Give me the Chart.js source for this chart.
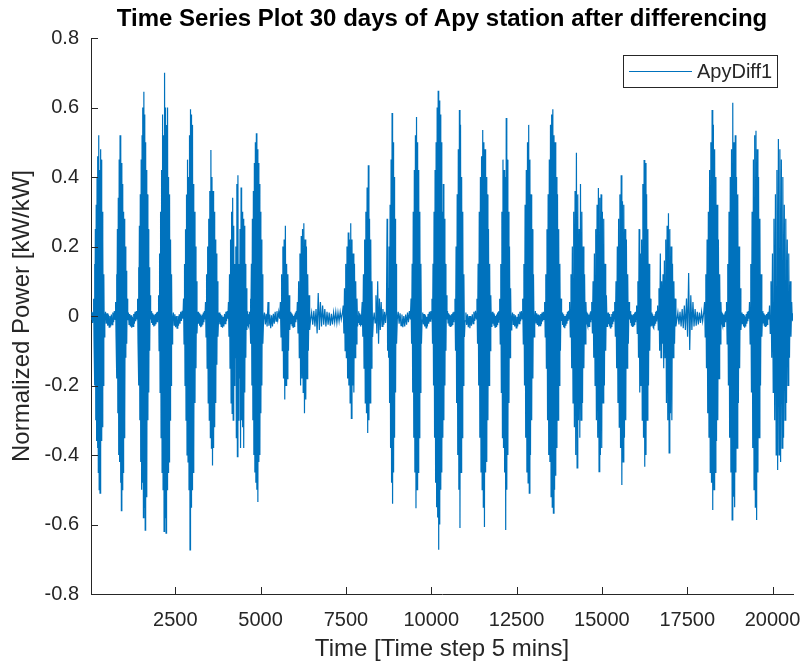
<!DOCTYPE html>
<html>
<head>
<meta charset="utf-8">
<title>ApyDiff1</title>
<script src="https://cdn.jsdelivr.net/npm/chart.js@4.4.1/dist/chart.umd.min.js"></script>
<style>
  html, body { margin: 0; padding: 0; background: #fff; }
  canvas { display: block; }
</style>
</head>
<body>
<canvas id="diff-chart" width="808" height="664"></canvas>
<script>
// Axis range and ticks
const xMin = 30;
const xMax = 20600;
const xTicks = [2500, 5000, 7500, 10000, 12500, 15000, 17500, 20000];
const xTickLabels = ["2500", "5000", "7500", "10000", "12500", "15000", "17500", "20000"];
const yTicks = [-0.8, -0.6, -0.4, -0.2, 0, 0.2, 0.4, 0.6, 0.8];
const yTickLabels = ["-0.8", "-0.6", "-0.4", "-0.2", "0", "0.2", "0.4", "0.6", "0.8"];

// Daytime bursts (time step range) and the sampled differenced power inside each one
const burstStart = [102, 745, 1389, 2003, 2734, 3377, 4050, 4693, 5570, 6067,
  7412, 7968, 8699, 9400, 10014, 10687, 11331, 11998, 12671, 13314,
  14045, 14693, 15366, 16009, 16623, 18000, 18643, 19316, 19901];
const burstEnd = [424, 1096, 1769, 2412, 3143, 3757, 4605, 5073, 5863, 6447,
  7851, 8290, 8991, 9721, 10453, 10980, 11770, 12349, 13022, 13811,
  14542, 15161, 15804, 16448, 17179, 18497, 19082, 19696, 20573];
const burstValues = [
  [0.05, -0.08, 0.15, -0.2, 0.25, -0.3, 0.32, -0.36, 0.4, -0.38, 0.46, -0.45, 0.52, -0.5, 0.42, -0.51, 0.48, -0.4, 0.45, -0.36, 0.3, -0.32, 0.22, -0.2, 0.12, -0.06],
  [0.04, -0.06, 0.12, -0.18, 0.25, -0.28, 0.34, -0.4, 0.45, -0.42, 0.52, -0.48, 0.5, -0.56, 0.44, -0.5, 0.38, -0.45, 0.3, -0.35, 0.28, -0.3, 0.2, -0.12, 0.13, -0.08, 0.05],
  [0.05, -0.08, 0.14, -0.2, 0.26, -0.3, 0.35, -0.42, 0.45, -0.5, 0.52, -0.48, 0.6, -0.58, 0.645, -0.55, 0.58, -0.616, 0.5, -0.52, 0.42, -0.48, 0.35, -0.3, 0.25, -0.22, 0.14, -0.1, 0.06],
  [0.06, -0.1, 0.18, -0.22, 0.3, -0.35, 0.42, -0.45, 0.58, -0.5, 0.52, -0.62, 0.7, -0.58, 0.6, -0.625, 0.55, -0.5, 0.6, -0.45, 0.4, -0.42, 0.35, -0.3, 0.22, -0.2, 0.12, -0.08],
  [0.05, -0.08, 0.15, -0.2, 0.25, -0.3, 0.35, -0.4, 0.45, -0.42, 0.4, -0.5, 0.52, -0.673, 0.595, -0.55, 0.58, -0.5, 0.55, -0.45, 0.38, -0.4, 0.3, -0.25, 0.2, -0.15, 0.1, -0.05],
  [0.04, -0.06, 0.12, -0.15, 0.2, -0.25, 0.28, -0.3, 0.36, -0.35, 0.478, -0.38, 0.4, -0.43, 0.36, -0.38, 0.3, -0.32, 0.22, -0.25, 0.18, -0.14, 0.1, -0.06],
  [0.04, -0.06, 0.12, -0.15, 0.22, -0.25, 0.3, -0.28, 0.34, -0.3, 0.26, -0.2, 0.15, -0.12, 0.2, -0.35, 0.38, -0.405, 0.405, -0.3, 0.15, -0.18, 0.25, -0.38, 0.37, -0.3, 0.3, -0.32, 0.28, -0.38, 0.26, -0.22, 0.15, -0.12, 0.08, -0.04],
  [0.05, -0.08, 0.15, -0.2, 0.28, -0.3, 0.36, -0.4, 0.44, -0.45, 0.5, -0.48, 0.526, -0.5, 0.48, -0.535, 0.44, -0.42, 0.38, -0.4, 0.3, -0.28, 0.22, -0.2, 0.12, -0.08],
  [0.04, -0.06, 0.12, -0.1, 0.2, -0.18, 0.22, -0.24, 0.26, -0.2, 0.15, -0.18, 0.12, -0.1, 0.06, -0.04],
  [0.04, -0.05, 0.1, -0.12, 0.18, -0.2, 0.23, -0.18, 0.25, -0.22, 0.267, -0.28, 0.22, -0.24, 0.2, -0.18, 0.12, -0.1, 0.06, -0.04],
  [0.03, -0.05, 0.08, -0.1, 0.15, -0.12, 0.2, -0.18, 0.24, -0.2, 0.22, -0.25, 0.267, -0.295, 0.22, -0.2, 0.18, -0.22, 0.15, -0.12, 0.1, -0.08, 0.05, -0.03],
  [0.04, -0.06, 0.12, -0.15, 0.22, -0.25, 0.3, -0.28, 0.37, -0.337, 0.434, -0.3, 0.28, -0.25, 0.22, -0.15, 0.1, -0.06],
  [0.28, -0.1, 0.08, -0.12, 0.2, -0.25, 0.32, -0.38, 0.45, -0.48, 0.584, -0.54, 0.5, -0.45, 0.4, -0.35, 0.28, -0.22, 0.15, -0.08],
  [0.05, -0.08, 0.15, -0.22, 0.3, -0.35, 0.42, -0.45, 0.52, -0.553, 0.573, -0.5, 0.5, -0.45, 0.42, -0.35, 0.3, -0.22, 0.15, -0.08],
  [0.05, -0.08, 0.15, -0.2, 0.3, -0.35, 0.42, -0.48, 0.5, -0.55, 0.6, -0.58, 0.648, -0.673, 0.62, -0.6, 0.58, -0.5, 0.5, -0.45, 0.3, -0.35, 0.38, -0.3, 0.28, -0.2, 0.15, -0.1, 0.06],
  [0.05, -0.1, 0.2, -0.25, 0.35, -0.4, 0.48, -0.5, 0.593, -0.61, 0.55, -0.45, 0.4, -0.35, 0.3, -0.2, 0.12, -0.06],
  [0.05, -0.08, 0.15, -0.2, 0.3, -0.35, 0.4, -0.45, 0.46, -0.5, 0.535, -0.55, 0.5, -0.607, 0.48, -0.45, 0.4, -0.42, 0.35, -0.3, 0.25, -0.2, 0.15, -0.1, 0.06, -0.03],
  [0.05, -0.08, 0.15, -0.22, 0.3, -0.35, 0.45, -0.38, 0.42, -0.45, 0.4, -0.616, 0.57, -0.5, 0.45, -0.4, 0.3, -0.25, 0.2, -0.12, 0.08, -0.04],
  [0.05, -0.08, 0.15, -0.2, 0.32, -0.35, 0.42, -0.45, 0.5, -0.48, 0.55, -0.51, 0.45, -0.4, 0.35, -0.3, 0.25, -0.18, 0.12, -0.06],
  [0.04, -0.06, 0.12, -0.15, 0.25, -0.3, 0.35, -0.4, 0.45, -0.42, 0.55, -0.52, 0.58, -0.55, 0.595, -0.567, 0.52, -0.5, 0.5, -0.46, 0.4, -0.38, 0.35, -0.3, 0.25, -0.2, 0.15, -0.1, 0.05],
  [0.04, -0.06, 0.12, -0.15, 0.2, -0.25, 0.3, -0.32, 0.36, -0.4, 0.47, -0.437, 0.35, -0.3, 0.25, -0.35, 0.38, -0.3, 0.3, -0.25, 0.2, -0.15, 0.12, -0.08, 0.04],
  [0.04, -0.05, 0.1, -0.12, 0.18, -0.2, 0.25, -0.3, 0.32, -0.35, 0.368, -0.448, 0.34, -0.4, 0.35, -0.38, 0.3, -0.25, 0.28, -0.2, 0.15, -0.1, 0.06, -0.03],
  [0.04, -0.06, 0.1, -0.15, 0.2, -0.25, 0.28, -0.32, 0.35, -0.38, 0.405, -0.486, 0.33, -0.42, 0.32, -0.35, 0.25, -0.3, 0.22, -0.15, 0.12, -0.08, 0.04],
  [0.03, -0.05, 0.1, -0.12, 0.25, -0.22, 0.18, -0.2, 0.22, -0.3, 0.38, -0.35, 0.449, -0.434, 0.44, -0.4, 0.35, -0.3, 0.25, -0.2, 0.15, -0.1, 0.05, -0.03],
  [0.03, -0.04, 0.08, -0.1, 0.18, -0.12, 0.1, -0.08, 0.12, -0.15, 0.16, -0.12, 0.22, -0.25, 0.26, -0.3, 0.296, -0.394, 0.25, -0.28, 0.2, -0.3, 0.15, -0.12, 0.1, -0.08, 0.05, -0.03],
  [0.04, -0.06, 0.12, -0.15, 0.22, -0.28, 0.3, -0.35, 0.42, -0.45, 0.5, -0.48, 0.593, -0.558, 0.55, -0.5, 0.48, -0.45, 0.4, -0.36, 0.32, -0.3, 0.22, -0.18, 0.12, -0.08, 0.04],
  [0.04, -0.08, 0.15, -0.2, 0.3, -0.35, 0.4, -0.45, 0.48, -0.587, 0.614, -0.52, 0.5, -0.55, 0.52, -0.45, 0.4, -0.38, 0.35, -0.25, 0.2, -0.15, 0.08, -0.04],
  [0.04, -0.08, 0.15, -0.22, 0.3, -0.38, 0.45, -0.5, 0.52, -0.55, 0.533, -0.587, 0.48, -0.45, 0.4, -0.35, 0.28, -0.2, 0.12, -0.06],
  [0.03, -0.05, 0.1, -0.12, 0.18, -0.22, 0.28, -0.3, 0.35, -0.4, 0.42, -0.443, 0.509, -0.4, 0.48, -0.42, 0.45, -0.38, 0.4, -0.35, 0.32, -0.3, 0.28, -0.25, 0.22, -0.2, 0.18, -0.12, 0.1, -0.06, 0.04],
];

// Night-time samples sitting before each burst (last entry closes the series)
const quietValues = [
  [-0.01, 0.012, -0.02, 0.008],
  [-0.01, 0.012, -0.022, 0.008, -0.028, 0.004, -0.032, 0.0, -0.03, 0.004, -0.025, 0.01, -0.018, 0.014, -0.01],
  [-0.012, 0.01, -0.024, 0.006, -0.03, 0.002, -0.034, -0.002, -0.03, 0.006, -0.022, 0.012, -0.015, 0.014, -0.008],
  [-0.01, 0.014, -0.02, 0.008, -0.026, 0.004, -0.03, 0.002, -0.028, 0.006, -0.024, 0.01, -0.016, 0.012, -0.01],
  [-0.014, 0.01, -0.026, 0.005, -0.032, 0.0, -0.035, 0.0, -0.028, 0.005, -0.022, 0.012, -0.014, 0.015, -0.008],
  [-0.01, 0.012, -0.022, 0.008, -0.028, 0.004, -0.032, 0.0, -0.03, 0.004, -0.025, 0.01, -0.018, 0.014, -0.01],
  [-0.012, 0.01, -0.024, 0.006, -0.03, 0.002, -0.034, -0.002, -0.03, 0.006, -0.022, 0.012, -0.015, 0.014, -0.008],
  [-0.01, 0.014, -0.02, 0.008, -0.026, 0.004, -0.03, 0.002, -0.028, 0.006, -0.024, 0.01, -0.016, 0.012, -0.01],
  [-0.012, 0.01, -0.024, 0.006, -0.03, 0.04, -0.028, 0.004, -0.035, 0.002, -0.03, 0.006, -0.022, 0.012, -0.015, 0.014, -0.01, 0.012, -0.008],
  [-0.01, 0.012, -0.022, 0.008, -0.028, 0.004, -0.032, 0.0, -0.03, 0.004, -0.025, 0.01, -0.018, 0.014, -0.01],
  [-0.012, 0.01, -0.025, 0.015, -0.03, 0.02, -0.05, 0.066, -0.04, 0.04, -0.03, 0.03, -0.025, 0.02, -0.03, 0.012, -0.025, 0.01, -0.028, 0.006, -0.024, 0.01, -0.018, 0.012, -0.02, 0.01, -0.015, 0.012, -0.01, 0.008],
  [-0.01, 0.014, -0.02, 0.008, -0.026, 0.004, -0.03, 0.002, -0.024, 0.01],
  [-0.012, 0.01, -0.02, 0.06, -0.05, 0.1, -0.08, 0.05, -0.04, 0.04, -0.03, 0.02, -0.025, 0.012, -0.02, 0.01],
  [-0.01, 0.012, -0.022, 0.008, -0.028, 0.004, -0.032, 0.0, -0.03, 0.004, -0.025, 0.01, -0.018, 0.014, -0.01],
  [-0.012, 0.01, -0.024, 0.006, -0.03, 0.002, -0.034, -0.002, -0.03, 0.006, -0.022, 0.012, -0.015, 0.014, -0.008],
  [-0.01, 0.014, -0.02, 0.008, -0.026, 0.004, -0.03, 0.002, -0.028, 0.006, -0.024, 0.01, -0.016, 0.012, -0.01],
  [-0.014, 0.01, -0.026, 0.005, -0.032, 0.0, -0.035, 0.0, -0.028, 0.005, -0.022, 0.012, -0.014, 0.015, -0.008],
  [-0.01, 0.012, -0.022, 0.008, -0.028, 0.004, -0.032, 0.0, -0.03, 0.004, -0.025, 0.01, -0.018, 0.014, -0.01],
  [-0.012, 0.01, -0.024, 0.006, -0.03, 0.002, -0.034, -0.002, -0.03, 0.006, -0.022, 0.012, -0.015, 0.014, -0.008],
  [-0.01, 0.014, -0.02, 0.008, -0.026, 0.004, -0.03, 0.002, -0.028, 0.006, -0.024, 0.01, -0.016, 0.012, -0.01],
  [-0.014, 0.01, -0.026, 0.005, -0.032, 0.0, -0.035, 0.0, -0.028, 0.005, -0.022, 0.012, -0.014, 0.015, -0.008],
  [-0.01, 0.012, -0.022, 0.008, -0.028, 0.004, -0.032, 0.0, -0.03, 0.004, -0.025, 0.01, -0.018, 0.014, -0.01],
  [-0.012, 0.01, -0.024, 0.006, -0.03, 0.002, -0.034, -0.002, -0.03, 0.006, -0.022, 0.012, -0.015, 0.014, -0.008],
  [-0.01, 0.014, -0.02, 0.008, -0.026, 0.004, -0.03, 0.002, -0.028, 0.006, -0.024, 0.01, -0.016, 0.012, -0.01],
  [-0.014, 0.01, -0.026, 0.005, -0.032, 0.0, -0.035, 0.0, -0.028, 0.005, -0.022, 0.012, -0.014, 0.015, -0.008],
  [-0.012, 0.01, -0.024, 0.012, -0.03, 0.02, -0.035, 0.03, -0.04, 0.05, -0.06, 0.124, -0.098, 0.06, -0.04, 0.04, -0.03, 0.02, -0.028, 0.012, -0.024, 0.01, -0.02, 0.012, -0.015, 0.01],
  [-0.01, 0.012, -0.022, 0.008, -0.028, 0.004, -0.032, 0.0, -0.03, 0.004, -0.025, 0.01, -0.018, 0.014, -0.01],
  [-0.012, 0.01, -0.024, 0.006, -0.03, 0.002, -0.034, -0.002, -0.03, 0.006, -0.022, 0.012, -0.015, 0.014, -0.008],
  [-0.01, 0.014, -0.02, 0.008, -0.026, 0.004, -0.03, 0.002, -0.028, 0.006, -0.024, 0.01, -0.016, 0.012, -0.01],
  [-0.01, 0.008, -0.012],
];

const lineColor = "#0072BD";
const axisColor = "#262626";
const fontFamily = "'Liberation Sans', Arial, Helvetica, sans-serif";

document.addEventListener("DOMContentLoaded", function () {
  // Spread each segment's samples evenly over its time span
  const points = [];
  function addSegment(values, from, to) {
    const n = values.length;
    values.forEach((v, k) => {
      points.push({ x: from + ((to - from) * (k + 0.5)) / n, y: v });
    });
  }
  let t = xMin;
  for (let i = 0; i < burstStart.length; i++) {
    addSegment(quietValues[i], t, burstStart[i]);
    addSegment(burstValues[i], burstStart[i], burstEnd[i]);
    t = burstEnd[i];
  }
  addSegment(quietValues[burstStart.length], t, xMax);

  // Small tick marks pointing into the plot
  const innerTicks = {
    id: "innerTicks",
    afterDatasetsDraw(chart) {
      const { ctx, chartArea: a, scales } = chart;
      ctx.save();
      ctx.strokeStyle = axisColor;
      ctx.lineWidth = 1;
      ctx.beginPath();
      xTicks.forEach((v) => {
        const px = Math.round(scales.x.getPixelForValue(v)) + 0.5;
        ctx.moveTo(px, a.bottom);
        ctx.lineTo(px, a.bottom - 7);
      });
      yTicks.forEach((v) => {
        const py = Math.round(scales.y.getPixelForValue(v)) + 0.5;
        ctx.moveTo(a.left, py);
        ctx.lineTo(a.left + 7, py);
      });
      ctx.stroke();
      ctx.restore();
    },
  };

  // Boxed legend in the upper right corner of the axes
  const boxLegend = {
    id: "boxLegend",
    afterDraw(chart) {
      const { ctx, chartArea: a } = chart;
      const w = 154, h = 32;
      const x = a.right - 16 - w;
      const y = a.top + 17;
      ctx.save();
      ctx.fillStyle = "#fff";
      ctx.fillRect(x, y, w, h);
      ctx.strokeStyle = axisColor;
      ctx.lineWidth = 1;
      ctx.strokeRect(x + 0.5, y + 0.5, w, h);
      ctx.strokeStyle = lineColor;
      ctx.beginPath();
      ctx.moveTo(x + 6, y + 16.5);
      ctx.lineTo(x + 69, y + 16.5);
      ctx.stroke();
      ctx.fillStyle = axisColor;
      ctx.font = "20px " + fontFamily;
      ctx.textBaseline = "middle";
      ctx.fillText(chart.data.datasets[0].label, x + 74, y + 17);
      ctx.restore();
    },
  };

  const ctx = document.getElementById("diff-chart").getContext("2d");
  new Chart(ctx, {
    type: "line",
    data: {
      datasets: [
        {
          label: "ApyDiff1",
          data: points,
          borderColor: lineColor,
          borderWidth: 1.2,
          pointRadius: 0,
          tension: 0,
          fill: false,
        },
      ],
    },
    options: {
      responsive: false,
      animation: false,
      devicePixelRatio: 1,
      layout: { padding: { left: 0, right: 15, top: 0, bottom: 0 } },
      plugins: {
        legend: { display: false },
        tooltip: { enabled: false },
        title: {
          display: true,
          fullSize: false,
          text: "Time Series Plot 30 days of Apy station after differencing",
          color: "#000",
          font: { family: fontFamily, size: 24, weight: "bold" },
          padding: { top: 5, bottom: 4.2 },
        },
      },
      scales: {
        x: {
          type: "linear",
          min: xMin,
          max: xMax,
          afterBuildTicks: (scale) => {
            scale.ticks = xTicks.map((v) => ({ value: v }));
          },
          afterFit: (scale) => {
            scale.height = 70;
            scale.paddingLeft = 0;
            scale.paddingRight = 0;
          },
          grid: { display: false, drawTicks: false },
          border: { display: true, color: axisColor, width: 1 },
          ticks: {
            color: axisColor,
            font: { family: fontFamily, size: 20 },
            padding: 14,
            maxRotation: 0,
            autoSkip: false,
            callback: (value, index) => xTickLabels[index],
          },
          title: {
            display: true,
            text: "Time [Time step 5 mins]",
            color: axisColor,
            font: { family: fontFamily, size: 24 },
            padding: { top: 0, bottom: 0 },
          },
        },
        y: {
          min: -0.8,
          max: 0.8,
          afterBuildTicks: (scale) => {
            scale.ticks = yTicks.map((v) => ({ value: v }));
          },
          afterFit: (scale) => {
            scale.width = 91;
          },
          grid: { display: false, drawTicks: false },
          border: { display: true, color: axisColor, width: 1 },
          ticks: {
            color: axisColor,
            font: { family: fontFamily, size: 20 },
            padding: 12,
            autoSkip: false,
            callback: (value, index) => yTickLabels[index],
          },
          title: {
            display: true,
            text: "Normalized Power [kW/kW]",
            color: axisColor,
            font: { family: fontFamily, size: 24 },
            padding: { top: 8, bottom: 0 },
          },
        },
      },
    },
    plugins: [innerTicks, boxLegend],
  });
});
</script>
</body>
</html>
